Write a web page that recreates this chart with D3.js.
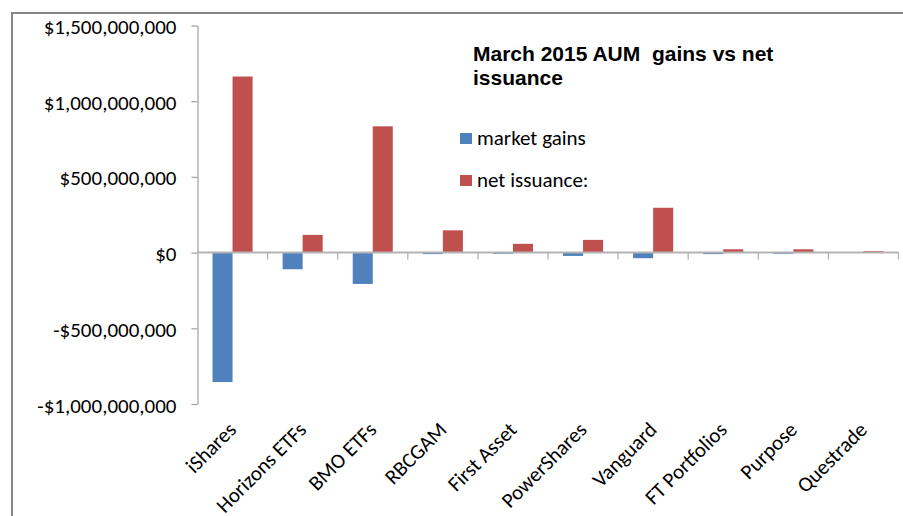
<!DOCTYPE html>
<html>
<head>
<meta charset="utf-8">
<script src="https://cdn.jsdelivr.net/npm/d3@7"></script>
<style>
  html, body { margin: 0; padding: 0; background: #fff; }
  svg { display: block; }
</style>
</head>
<body>
<svg id="chart" width="903" height="516"></svg>
<script>
const categories = ["iShares","Horizons ETFs","BMO ETFs","RBCGAM","First Asset","PowerShares","Vanguard","FT Portfolios","Purpose","Questrade"];
const marketGains = [-855e6, -110e6, -207e6, -10e6, -8e6, -22e6, -37e6, -10e6, -8e6, 0];
const netIssuance = [1163e6, 117e6, 834e6, 147e6, 58e6, 84e6, 296e6, 22e6, 22e6, 10e6];
const seriesNames = ["market gains", "net issuance:"];
const seriesColors = ["#4F81BD", "#C0504D"];
const yTicks = [-1e9, -5e8, 0, 5e8, 1e9, 1.5e9];
const titleLines = ["March 2015 AUM  gains vs net", "issuance"];

const svg = d3.select("#chart");
const labelFont = "Carlito, Calibri, Lato, 'Open Sans', sans-serif";

// outer chart border
svg.append("rect")
  .attr("x", 12).attr("y", 13)
  .attr("width", 900).attr("height", 520)
  .attr("fill", "#fff")
  .attr("stroke", "#868686").attr("stroke-width", 2);

const plot = { left: 197.5, right: 898.5, top: 25.5, bottom: 404 };

const y = d3.scaleLinear().domain([-1e9, 1.5e9]).range([plot.bottom, plot.top]);
const x = d3.scaleBand().domain(categories).range([plot.left, plot.right]).padding(0);
const x1 = d3.scaleBand().domain(seriesNames).range([0, x.bandwidth()])
  .paddingInner(0).paddingOuter(0.75);

const loc = d3.formatLocale({decimal: ".", thousands: ",", grouping: [3], currency: ["$", ""], minus: "-"});
const fmt = loc.format("$,.0f");

// y axis
const yAxis = svg.append("g")
  .attr("transform", `translate(${plot.left},0)`)
  .call(d3.axisLeft(y).tickValues(yTicks).tickSize(6).tickSizeOuter(0).tickPadding(15).tickFormat(fmt));
yAxis.select(".domain").attr("stroke", "#a6a6a6").attr("stroke-width", 1.3);
yAxis.selectAll(".tick line").attr("stroke", "#a6a6a6").attr("stroke-width", 1.3);
yAxis.selectAll(".tick text")
  .attr("font-family", labelFont).attr("font-size", 21)
  .attr("fill", "#000").attr("dy", "8px");

// bars
const data = categories.map((c, i) => ({ cat: c, vals: [marketGains[i], netIssuance[i]] }));
const groups = svg.append("g").selectAll("g").data(data).join("g")
  .attr("transform", d => `translate(${x(d.cat)},0)`);
groups.selectAll("rect")
  .data(d => d.vals.map((v, j) => ({ v, s: seriesNames[j], c: seriesColors[j] })))
  .join("rect")
  .attr("x", d => x1(d.s))
  .attr("width", x1.bandwidth())
  .attr("y", d => y(Math.max(0, d.v)))
  .attr("height", d => Math.abs(y(d.v) - y(0)))
  .attr("fill", d => d.c);

// x axis at zero
const xAxis = svg.append("g")
  .attr("transform", `translate(0,${y(0)})`);
xAxis.append("line")
  .attr("x1", plot.left).attr("x2", plot.right)
  .attr("stroke", "#b3b3b3").attr("stroke-width", 2);
const boundaries = categories.map(c => x(c) + x.bandwidth());
xAxis.selectAll(".xt").data(boundaries).join("line")
  .attr("class", "xt")
  .attr("x1", d => d).attr("x2", d => d)
  .attr("y1", 0).attr("y2", 7)
  .attr("stroke", "#b3b3b3").attr("stroke-width", 1.3);

// category labels
svg.append("g").selectAll("text").data(categories).join("text")
  .attr("transform", d => `translate(${x(d) + x.bandwidth() / 2 + 5},431) rotate(-45)`)
  .attr("text-anchor", "end")
  .attr("font-family", labelFont).attr("font-size", 21)
  .attr("fill", "#000")
  .text(d => d);

// title
svg.append("text")
  .attr("x", 473).attr("y", 61)
  .attr("font-family", "'Liberation Sans', Arial, sans-serif")
  .attr("font-weight", "bold").attr("font-size", 21)
  .attr("fill", "#000")
  .selectAll("tspan").data(titleLines).join("tspan")
  .attr("x", 473).attr("dy", (d, i) => i === 0 ? 0 : 24)
  .style("white-space", "pre")
  .text(d => d);

// legend
const legend = svg.append("g");
const legendY = [139, 181];
seriesNames.forEach((s, i) => {
  legend.append("rect")
    .attr("x", 460).attr("y", legendY[i] - 6)
    .attr("width", 12).attr("height", 11)
    .attr("fill", seriesColors[i]);
  legend.append("text")
    .attr("x", 477).attr("y", legendY[i] + 6)
    .attr("font-family", labelFont).attr("font-size", 21)
    .attr("fill", "#000")
    .text(s);
});
</script>
</body>
</html>
